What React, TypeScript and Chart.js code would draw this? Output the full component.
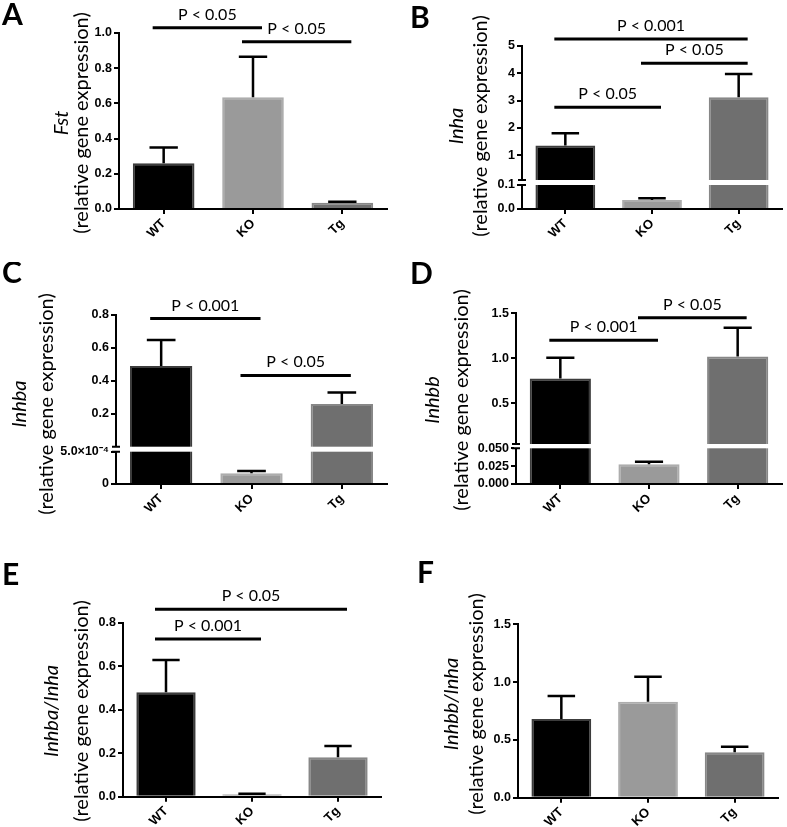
import React, { useEffect, useRef } from 'react';
import { Chart, registerables, LinearScale } from 'chart.js';

Chart.register(...registerables);

// ---------- data ----------
const CATEGORIES = ['WT', 'KO', 'Tg'];

const FST_MEAN = [0.26, 0.635, 0.035];
const FST_ERR = [0.09, 0.23, 0.006];
const FST_TICKS = [0, 0.2, 0.4, 0.6, 0.8, 1.0];
const FST_TICK_LABELS = ['0.0', '0.2', '0.4', '0.6', '0.8', '1.0'];
const FST_SIG: [number, number, number, string][] = [
  [0, 1, 1.03, 'P < 0.05'],
  [1, 2, 0.95, 'P < 0.05'],
];

const INHA_MEAN = [1.36, 0.0375, 3.12];
const INHA_ERR = [0.45, 0.0075, 0.85];
const INHA_TICKS = [0, 0.1, 1, 2, 3, 4, 5];
const INHA_TICK_LABELS = ['0.0', '0.1', '1', '2', '3', '4', '5'];
const INHA_SIG: [number, number, number, string][] = [
  [0, 1, 2.75, 'P < 0.05'],
  [1, 2, 4.36, 'P < 0.05'],
  [0, 2, 5.24, 'P < 0.001'],
];

const INHBA_MEAN = [0.491, 0.000166, 0.26];
const INHBA_ERR = [0.157, 0.000034, 0.07];
const INHBA_TICKS = [0, 0.0005, 0.2, 0.4, 0.6, 0.8];
const INHBA_TICK_LABELS = ['0', '5.0×10⁻⁴', '0.2', '0.4', '0.6', '0.8'];
const INHBA_SIG: [number, number, number, string][] = [
  [0, 1, 0.778, 'P < 0.001'],
  [1, 2, 0.433, 'P < 0.05'],
];

const INHBB_MEAN = [0.777, 0.0276, 1.02];
const INHBB_ERR = [0.23, 0.0034, 0.32];
const INHBB_TICKS = [0, 0.025, 0.05, 0.5, 1.0, 1.5];
const INHBB_TICK_LABELS = ['0.000', '0.025', '0.050', '0.5', '1.0', '1.5'];
const INHBB_SIG: [number, number, number, string][] = [
  [0, 1, 1.2, 'P < 0.001'],
  [1, 2, 1.45, 'P < 0.05'],
];

const RATIO_A_MEAN = [0.48, 0.011, 0.181];
const RATIO_A_ERR = [0.148, 0.002, 0.052];
const RATIO_A_TICKS = [0, 0.2, 0.4, 0.6, 0.8];
const RATIO_A_TICK_LABELS = ['0.0', '0.2', '0.4', '0.6', '0.8'];
const RATIO_A_SIG: [number, number, number, string][] = [
  [0, 1, 0.725, 'P < 0.001'],
  [0, 2, 0.862, 'P < 0.05'],
];

const RATIO_B_MEAN = [0.68, 0.83, 0.393];
const RATIO_B_ERR = [0.2, 0.217, 0.047];
const RATIO_B_TICKS = [0, 0.5, 1.0, 1.5];
const RATIO_B_TICK_LABELS = ['0.0', '0.5', '1.0', '1.5'];
const RATIO_B_SIG: [number, number, number, string][] = [];

// ---------- styles ----------
const BAR_FILL = ['#000000', '#9a9a9a', '#6f6f6f'];
const BAR_BORDER = ['#3c3c3c', '#adadad', '#878787'];
const TEXT_FONT = 'Lato';
const TICK_FONT = 'Liberation Sans';

// ---------- broken axis scale ----------
class BrokenLinearScale extends LinearScale {
  static id = 'brokenLinear';
  getPixelForValue(value: number) {
    const o: any = this.options;
    const bv = o.breakValue;
    if (bv == null || value == null || isNaN(value)) return super.getPixelForValue(value);
    const lowPx = o.breakLowPx;
    const gap = o.breakGapPx;
    const bottom = this.bottom;
    const upPx = bottom - this.top - lowPx - gap;
    if (value <= bv) return bottom - ((value - this.min) / (bv - this.min)) * lowPx;
    return bottom - lowPx - gap - ((value - bv) / (this.max - bv)) * upPx;
  }
  getValueForPixel(pixel: number) {
    const o: any = this.options;
    const bv = o.breakValue;
    if (bv == null) return super.getValueForPixel(pixel);
    const lowPx = o.breakLowPx;
    const gap = o.breakGapPx;
    const bottom = this.bottom;
    const upPx = bottom - this.top - lowPx - gap;
    if (pixel >= bottom - lowPx) return this.min + ((bottom - pixel) / lowPx) * (bv - this.min);
    return bv + ((bottom - lowPx - gap - pixel) / upPx) * (this.max - bv);
  }
}
Chart.register(BrokenLinearScale as any);

type PanelSpec = {
  letter: string;
  gene: string;
  mean: number[];
  err: number[];
  min: number;
  max: number;
  ticks: number[];
  tickLabels: string[];
  sig: [number, number, number, string][];
  brk?: { value: number; lowPx: number; gapPx: number };
  rect: [number, number, number, number];
  area: [number, number, number, number];
  geneX: number;
  relX: number;
  titleY: number;
  letterPos: [number, number];
};

const PANELS: PanelSpec[] = [
  {
    letter: 'A', gene: 'Fst', mean: FST_MEAN, err: FST_ERR, min: 0, max: 1,
    ticks: FST_TICKS, tickLabels: FST_TICK_LABELS, sig: FST_SIG,
    rect: [0, 0, 393, 262], area: [119, 33, 387, 209],
    geneX: 62, relX: 82, titleY: 123, letterPos: [2, 25],
  },
  {
    letter: 'B', gene: 'Inha', mean: INHA_MEAN, err: INHA_ERR, min: 0, max: 5,
    ticks: INHA_TICKS, tickLabels: INHA_TICK_LABELS, sig: INHA_SIG,
    brk: { value: 0.1, lowPx: 24, gapPx: 5 },
    rect: [393, 0, 394, 262], area: [522, 45.7, 782, 209],
    geneX: 457, relX: 481, titleY: 126, letterPos: [410, 28],
  },
  {
    letter: 'C', gene: 'Inhba', mean: INHBA_MEAN, err: INHBA_ERR, min: 0, max: 0.8,
    ticks: INHBA_TICKS, tickLabels: INHBA_TICK_LABELS, sig: INHBA_SIG,
    brk: { value: 0.0005, lowPx: 32.3, gapPx: 5 },
    rect: [0, 262, 393, 293], area: [116, 315, 387, 484],
    geneX: 20, relX: 47, titleY: 404, letterPos: [2, 283],
  },
  {
    letter: 'D', gene: 'Inhbb', mean: INHBB_MEAN, err: INHBB_ERR, min: 0, max: 1.5,
    ticks: INHBB_TICKS, tickLabels: INHBB_TICK_LABELS, sig: INHBB_SIG,
    brk: { value: 0.05, lowPx: 35.7, gapPx: 4.3 },
    rect: [393, 262, 394, 293], area: [516, 313.3, 782, 484],
    geneX: 433, relX: 462, titleY: 400, letterPos: [410, 284],
  },
  {
    letter: 'E', gene: 'Inhba/Inha', mean: RATIO_A_MEAN, err: RATIO_A_ERR, min: 0, max: 0.8,
    ticks: RATIO_A_TICKS, tickLabels: RATIO_A_TICK_LABELS, sig: RATIO_A_SIG,
    rect: [0, 555, 393, 272], area: [123, 622.7, 381, 796.7],
    geneX: 52, relX: 82, titleY: 711, letterPos: [2, 585],
  },
  {
    letter: 'F', gene: 'Inhbb/Inha', mean: RATIO_B_MEAN, err: RATIO_B_ERR, min: 0, max: 1.5,
    ticks: RATIO_B_TICKS, tickLabels: RATIO_B_TICK_LABELS, sig: RATIO_B_SIG,
    rect: [393, 555, 394, 272], area: [518, 624.3, 778, 797.7],
    geneX: 452, relX: 477, titleY: 704, letterPos: [417, 583],
  },
];

function decoPlugin(spec: PanelSpec) {
  return {
    id: 'deco' + spec.letter,
    afterDatasetsDraw(chart: any) {
      const ctx: CanvasRenderingContext2D = chart.ctx;
      const xs = chart.scales.x;
      const ys = chart.scales.y;
      const ca = chart.chartArea;
      const [px, py] = spec.rect;
      ctx.save();

      // axis break
      if (spec.brk) {
        const yLow = ys.getPixelForValue(spec.brk.value);
        const yHigh = yLow - spec.brk.gapPx;
        ctx.fillStyle = '#ffffff';
        ctx.fillRect(ca.left - 2, yHigh, ca.right - ca.left + 2, yLow - yHigh);
        ctx.strokeStyle = '#000';
        ctx.lineWidth = 2;
        ctx.beginPath();
        for (const yy of [yHigh, yLow]) {
          ctx.moveTo(ca.left - 4, yy);
          ctx.lineTo(ca.left + 4, yy);
        }
        ctx.stroke();
      }

      // error bars
      const meta = chart.getDatasetMeta(0);
      ctx.strokeStyle = '#000';
      ctx.lineWidth = 2.5;
      spec.mean.forEach((m, i) => {
        const bar: any = meta.data[i];
        const x = bar.x;
        const half = bar.width * 0.23;
        const y0 = ys.getPixelForValue(m);
        const y1 = ys.getPixelForValue(m + spec.err[i]);
        ctx.beginPath();
        ctx.moveTo(x, y0);
        ctx.lineTo(x, y1);
        ctx.moveTo(x - half, y1);
        ctx.lineTo(x + half, y1);
        ctx.stroke();
      });

      // significance lines
      ctx.lineWidth = 3;
      ctx.fillStyle = '#000';
      ctx.font = `16px ${TEXT_FONT}`;
      ctx.textAlign = 'center';
      ctx.textBaseline = 'alphabetic';
      for (const [a, b, v, label] of spec.sig) {
        const x1 = xs.getPixelForValue(a) - 11;
        const x2 = xs.getPixelForValue(b) + 9;
        const y = ys.getPixelForValue(v);
        ctx.beginPath();
        ctx.moveTo(x1, y);
        ctx.lineTo(x2, y);
        ctx.stroke();
        ctx.fillText(label, (x1 + x2) / 2, y - 8);
      }

      // axis titles
      const rot = (text: string, font: string, x: number, y: number) => {
        ctx.save();
        ctx.translate(x - px, y - py);
        ctx.rotate(-Math.PI / 2);
        ctx.font = font;
        ctx.textAlign = 'center';
        ctx.textBaseline = 'middle';
        ctx.fillText(text, 0, 0);
        ctx.restore();
      };
      rot(spec.gene, `italic 20px ${TEXT_FONT}`, spec.geneX, spec.titleY);
      rot('(relative gene expression)', `20px ${TEXT_FONT}`, spec.relX, spec.titleY);

      // panel letter
      ctx.font = `bold 30px ${TEXT_FONT}`;
      ctx.textAlign = 'left';
      ctx.textBaseline = 'alphabetic';
      ctx.fillText(spec.letter, spec.letterPos[0] - px, spec.letterPos[1] - py);

      ctx.restore();
    },
  };
}

function buildConfig(spec: PanelSpec): any {
  const [px, py, pw, ph] = spec.rect;
  const [al, at, ar, ab] = spec.area;
  const yW = 70;
  const xH = py + ph - ab;
  return {
    type: 'bar',
    data: {
      labels: CATEGORIES,
      datasets: [
        {
          data: spec.mean,
          backgroundColor: BAR_FILL,
          borderColor: BAR_BORDER,
          borderWidth: 2,
          barPercentage: 0.69,
          categoryPercentage: 1,
        },
      ],
    },
    options: {
      responsive: false,
      animation: false,
      devicePixelRatio: 1,
      events: [],
      layout: { padding: { left: al - px - yW, top: at - py, right: px + pw - ar, bottom: 0 } },
      plugins: { legend: { display: false }, tooltip: { enabled: false }, title: { display: false } },
      scales: {
        x: {
          type: 'category',
          offset: true,
          afterFit: (s: any) => { s.height = xH; },
          ticks: {
            autoSkip: false,
            minRotation: 45,
            maxRotation: 45,
            padding: 2,
            color: '#000',
            font: { family: TICK_FONT, weight: 'bold', size: 13 },
          },
          grid: { display: true, offset: false, drawOnChartArea: false, drawTicks: true, tickLength: 5, color: '#000', lineWidth: 2 },
          border: { display: true, color: '#000', width: 2 },
        },
        y: {
          type: spec.brk ? 'brokenLinear' : 'linear',
          min: spec.min,
          max: spec.max,
          breakValue: spec.brk ? spec.brk.value : undefined,
          breakLowPx: spec.brk ? spec.brk.lowPx : undefined,
          breakGapPx: spec.brk ? spec.brk.gapPx : undefined,
          afterBuildTicks: (s: any) => { s.ticks = spec.ticks.map((v) => ({ value: v })); },
          afterFit: (s: any) => { s.width = yW; },
          ticks: {
            autoSkip: false,
            padding: 2,
            color: '#000',
            font: { family: TICK_FONT, weight: 'bold', size: 12.5 },
            callback: (_v: any, i: number) => spec.tickLabels[i],
          },
          grid: { display: true, drawOnChartArea: false, drawTicks: true, tickLength: 5, color: '#000', lineWidth: 2 },
          border: { display: true, color: '#000', width: 2 },
        },
      },
    },
    plugins: [decoPlugin(spec)],
  };
}

function Panel({ spec }: { spec: PanelSpec }) {
  const ref = useRef<HTMLCanvasElement>(null);
  useEffect(() => {
    const chart = new Chart(ref.current as HTMLCanvasElement, buildConfig(spec));
    return () => chart.destroy();
  }, [spec]);
  const [x, y, w, h] = spec.rect;
  return (
    <canvas
      ref={ref}
      width={w}
      height={h}
      style={{ position: 'absolute', left: x, top: y, width: w, height: h }}
    />
  );
}

export default function App() {
  return (
    <div style={{ position: 'absolute', left: 0, top: 0, width: 787, height: 827, background: '#fff', overflow: 'hidden' }}>
      {PANELS.map((p) => (
        <Panel key={p.letter} spec={p} />
      ))}
    </div>
  );
}
